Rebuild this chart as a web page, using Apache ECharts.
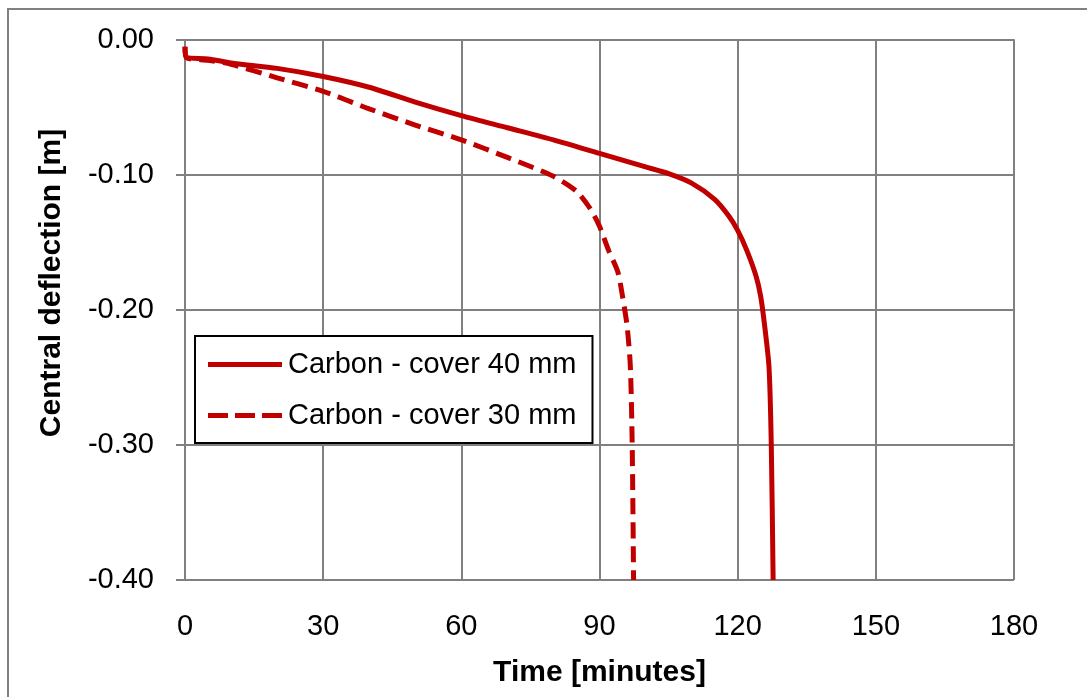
<!DOCTYPE html>
<html>
<head>
<meta charset="utf-8">
<script src="https://cdn.jsdelivr.net/npm/echarts@6/dist/echarts.min.js"></script>
<style>html,body{margin:0;padding:0;background:#fff}#c{width:1087px;height:697px}</style>
</head>
<body>
<div id="c"></div>
<script>
const seriesNames = ['Carbon - cover 40 mm', 'Carbon - cover 30 mm'];
const time40 = [0, 0.3, 5, 10, 20, 30, 40, 50, 60, 70, 80, 90, 100, 105, 110, 115, 118, 120, 122, 124, 125, 125.8, 126.8, 127.3, 127.7];
const defl40 = [-0.005, -0.013, -0.014, -0.017, -0.021, -0.027, -0.035, -0.046, -0.056, -0.065, -0.074, -0.084, -0.094, -0.099, -0.106, -0.118, -0.130, -0.141, -0.156, -0.175, -0.190, -0.210, -0.242, -0.300, -0.400];
const time30 = [0, 0.3, 5, 10, 20, 30, 40, 50, 60, 70, 80, 85, 88, 90, 92, 94, 95, 96, 96.7, 97.1, 97.4];
const defl30 = [-0.005, -0.013, -0.015, -0.018, -0.028, -0.038, -0.051, -0.063, -0.074, -0.087, -0.101, -0.112, -0.125, -0.138, -0.156, -0.172, -0.190, -0.212, -0.242, -0.300, -0.400];
const xTicks = [0, 30, 60, 90, 120, 150, 180];
const yTicks = [0, -0.1, -0.2, -0.3, -0.4];

const FONT = "'Liberation Sans', Arial, sans-serif";
const RED = '#c00000';
const GRIDC = '#808080';
const pair = (xs, ys) => xs.map((x, i) => [x, ys[i]]);

const chart = echarts.init(document.getElementById('c'), null, {renderer: 'canvas'});
chart.setOption({
  animation: false,
  backgroundColor: '#fff',
  grid: {left: 185, right: 73, top: 40, bottom: 117, containLabel: false, outerBoundsMode: 'none'},
  graphic: [
    {type: 'rect', shape: {x: 8, y: 9, width: 1100, height: 720}, style: {fill: 'none', stroke: GRIDC, lineWidth: 2}, silent: true, z: -1},
    {type: 'text', x: 52, y: 283, rotation: Math.PI / 2,
     style: {text: 'Central deflection [m]', font: 'bold 30px ' + FONT, fill: '#000', align: 'center', verticalAlign: 'middle'}}
  ],
  xAxis: {
    type: 'value', min: xTicks[0], max: xTicks[xTicks.length - 1], interval: 30,
    name: 'Time [minutes]', nameLocation: 'middle', nameGap: 78,
    nameTextStyle: {fontFamily: FONT, fontWeight: 'bold', fontSize: 30, color: '#000'},
    axisLine: {show: true, lineStyle: {color: GRIDC, width: 2}},
    axisTick: {show: false},
    axisLabel: {fontFamily: FONT, fontSize: 29, color: '#000', margin: 32},
    splitLine: {show: true, lineStyle: {color: GRIDC, width: 2}}
  },
  yAxis: {
    type: 'value', min: yTicks[yTicks.length - 1], max: yTicks[0], interval: 0.1,
    axisLine: {show: true, onZero: false, lineStyle: {color: GRIDC, width: 2}},
    axisTick: {show: true, inside: false, length: 9, lineStyle: {color: GRIDC, width: 2}},
    axisLabel: {fontFamily: FONT, fontSize: 29, color: '#000', margin: 31,
      formatter: v => (Math.abs(v) < 1e-9 ? 0 : v).toFixed(2)},
    splitLine: {show: true, lineStyle: {color: GRIDC, width: 2}}
  },
  legend: {
    show: true, left: 195, top: 336, orient: 'vertical',
    backgroundColor: '#fff', borderColor: '#000', borderWidth: 2, borderRadius: 0,
    padding: [14, 16, 13, 13], itemGap: 22, itemWidth: 74, itemHeight: 5,
    textStyle: {fontFamily: FONT, fontSize: 29, color: '#000', padding: [0, 0, 0, 1]},
    itemStyle: {color: RED, borderWidth: 0},
    data: [
      {name: seriesNames[0], icon: 'path://M0,0H74V5H0Z'},
      {name: seriesNames[1], icon: 'path://M0,0H20V5H0Z M27,0H47V5H27Z M54,0H74V5H54Z'}
    ]
  },
  series: [
    {name: seriesNames[0], type: 'line', data: pair(time40, defl40), symbol: 'none', showSymbol: false,
     smooth: 0.25,
     lineStyle: {color: RED, width: 5, type: 'solid'}, itemStyle: {color: RED}},
    {name: seriesNames[1], type: 'line', data: pair(time30, defl30), symbol: 'none', showSymbol: false,
     smooth: 0.25,
     lineStyle: {color: RED, width: 5, type: [16, 8]}, itemStyle: {color: RED}}
  ]
});
</script>
</body>
</html>
